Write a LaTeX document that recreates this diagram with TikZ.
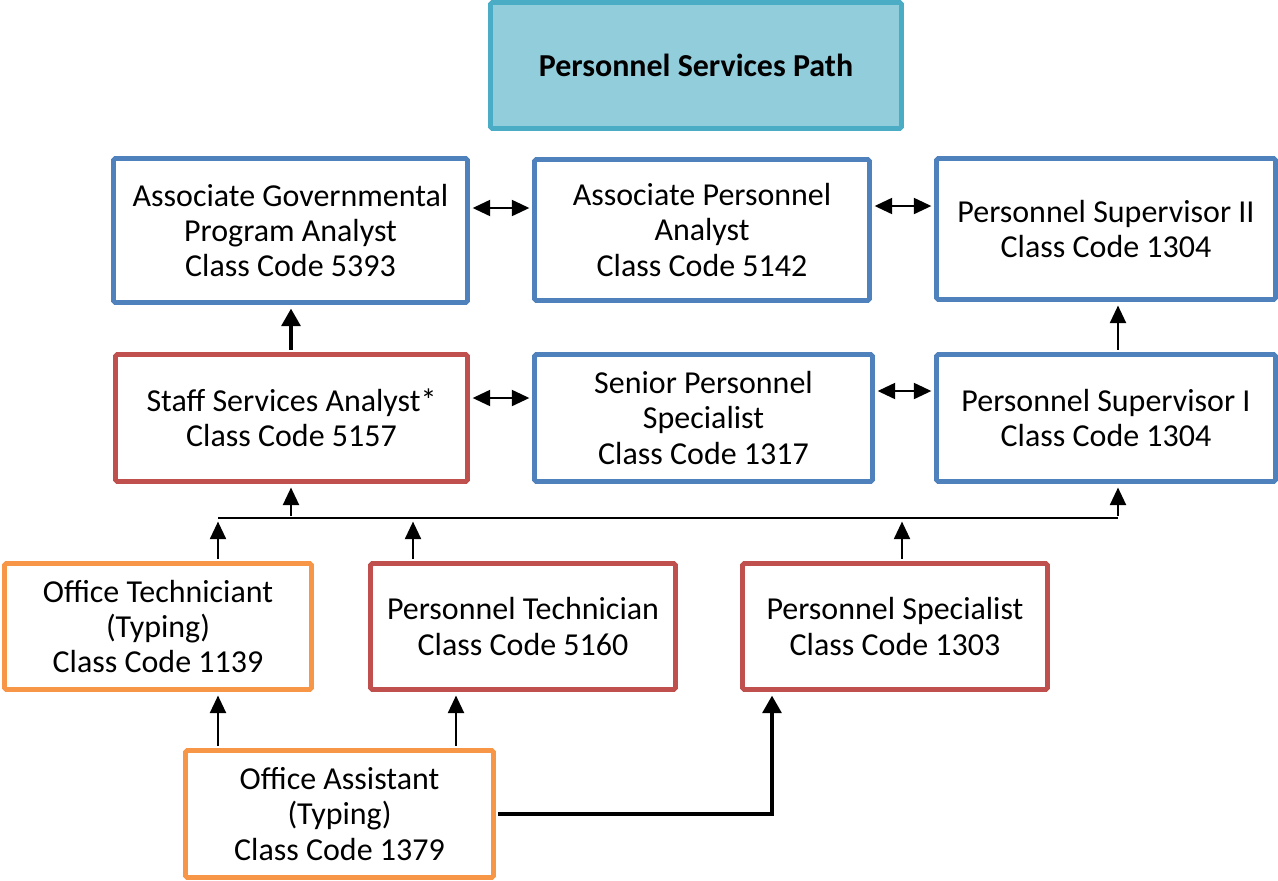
\documentclass[tikz,border=0pt]{standalone}
\usepackage{fontspec}
\setmainfont{Carlito}
\usepackage{tikz}
\usetikzlibrary{arrows.meta,positioning}

\definecolor{boxblue}{HTML}{4F81BD}
\definecolor{boxred}{HTML}{C0504D}
\definecolor{boxorange}{HTML}{F79646}
\definecolor{titlefill}{HTML}{92CDDC}
\definecolor{titleline}{HTML}{4BACC6}

\begin{document}
\begin{tikzpicture}[x=0.02cm,y=-0.02cm,
    box/.style={draw,line width=2.8pt,fill=white,align=center,inner sep=0pt,
        rounded corners=1pt,font=\fontsize{18.2}{20.2}\selectfont},
    bluebox/.style={box,draw=boxblue},
    redbox/.style={box,draw=boxred},
    orangebox/.style={box,draw=boxorange},
    titlebox/.style={box,draw=titleline,fill=titlefill,font=\fontsize{18.2}{20.2}\selectfont\bfseries},
    arr/.style={-{Triangle[length=10pt,width=9pt]},line width=1.5pt,shorten >=2pt,shorten <=1.4pt},
    dbl/.style={{Triangle[length=10pt,width=9pt]}-{Triangle[length=10pt,width=9pt]},line width=1.5pt,shorten >=1.5pt,shorten <=1.5pt},
    thickarr/.style={-{Triangle[length=10pt,width=10.5pt]},line width=2.6pt,shorten >=2pt,shorten <=1.4pt}]
    \useasboundingbox (0,0) rectangle (1278,880);

    % title
    \node[titlebox,minimum width=411*0.02cm,minimum height=126*0.02cm] (title) at (696,65.5) {Personnel Services Path};

    % top row
    \node[bluebox,minimum width=354*0.02cm,minimum height=144*0.02cm] (agpa) at (290.5,230.5)
        {Associate Governmental\\Program Analyst\\Class Code 5393};
    \node[bluebox,minimum width=335*0.02cm,minimum height=141*0.02cm] (apa) at (702,230)
        {Associate Personnel\\Analyst\\Class Code 5142};
    \node[bluebox,minimum width=339*0.02cm,minimum height=141*0.02cm] (psii) at (1106,229)
        {Personnel Supervisor II\\Class Code 1304};

    % middle row
    \node[redbox,minimum width=352*0.02cm,minimum height=127*0.02cm] (ssa) at (291.5,418)
        {Staff Services Analyst*\\Class Code 5157};
    \node[bluebox,minimum width=338*0.02cm,minimum height=127*0.02cm] (sps) at (703.5,418)
        {Senior Personnel\\Specialist\\Class Code 1317};
    \node[bluebox,minimum width=339*0.02cm,minimum height=127*0.02cm] (psi) at (1106,418)
        {Personnel Supervisor I\\Class Code 1304};

    % entry row
    \node[orangebox,minimum width=307*0.02cm,minimum height=126*0.02cm] (ot) at (158,626.5)
        {Office Techniciant\\(Typing)\\Class Code 1139};
    \node[redbox,minimum width=305*0.02cm,minimum height=126*0.02cm] (pt) at (523,626.5)
        {Personnel Technician\\Class Code 5160};
    \node[redbox,minimum width=305*0.02cm,minimum height=126*0.02cm] (psp) at (895,626.5)
        {Personnel Specialist\\Class Code 1303};
    \node[orangebox,minimum width=308*0.02cm,minimum height=127*0.02cm] (oa) at (339.5,814)
        {Office Assistant\\(Typing)\\Class Code 1379};

    \coordinate (busl) at (218,518);
    \coordinate (busr) at (1118,518);

    % lateral moves
    \draw[dbl] (agpa.east |- 0,208) -- (apa.west |- 0,208);
    \draw[dbl] (apa.east |- 0,206) -- (psii.west |- 0,206);
    \draw[dbl] (ssa.east |- 0,398) -- (sps.west |- 0,398);
    \draw[dbl] (sps.east |- 0,391) -- (psi.west |- 0,391);

    % promotions
    \draw[thickarr] (ssa.north -| 291,0) -- (agpa.south -| 291,0);
    \draw[arr] (psi.north -| busr) -- (psii.south -| busr);
    \draw[line width=1.5pt] (busl) -- (busr);
    \draw[arr] (busr) -- (psi.south -| busr);
    \draw[arr] (busl -| 291,0) -- (ssa.south -| 291,0);
    \draw[arr] (ot.north -| busl) -- (busl);
    \draw[arr] (pt.north -| 413,0) -- (busl -| 413,0);
    \draw[arr] (psp.north -| 902,0) -- (busl -| 902,0);
    \draw[arr] (oa.north -| busl) -- (ot.south -| busl);
    \draw[arr] (oa.north -| 456,0) -- (pt.south -| 456,0);
    \draw[thickarr] (oa.east) -| (psp.south -| 772,0);
\end{tikzpicture}
\end{document}
